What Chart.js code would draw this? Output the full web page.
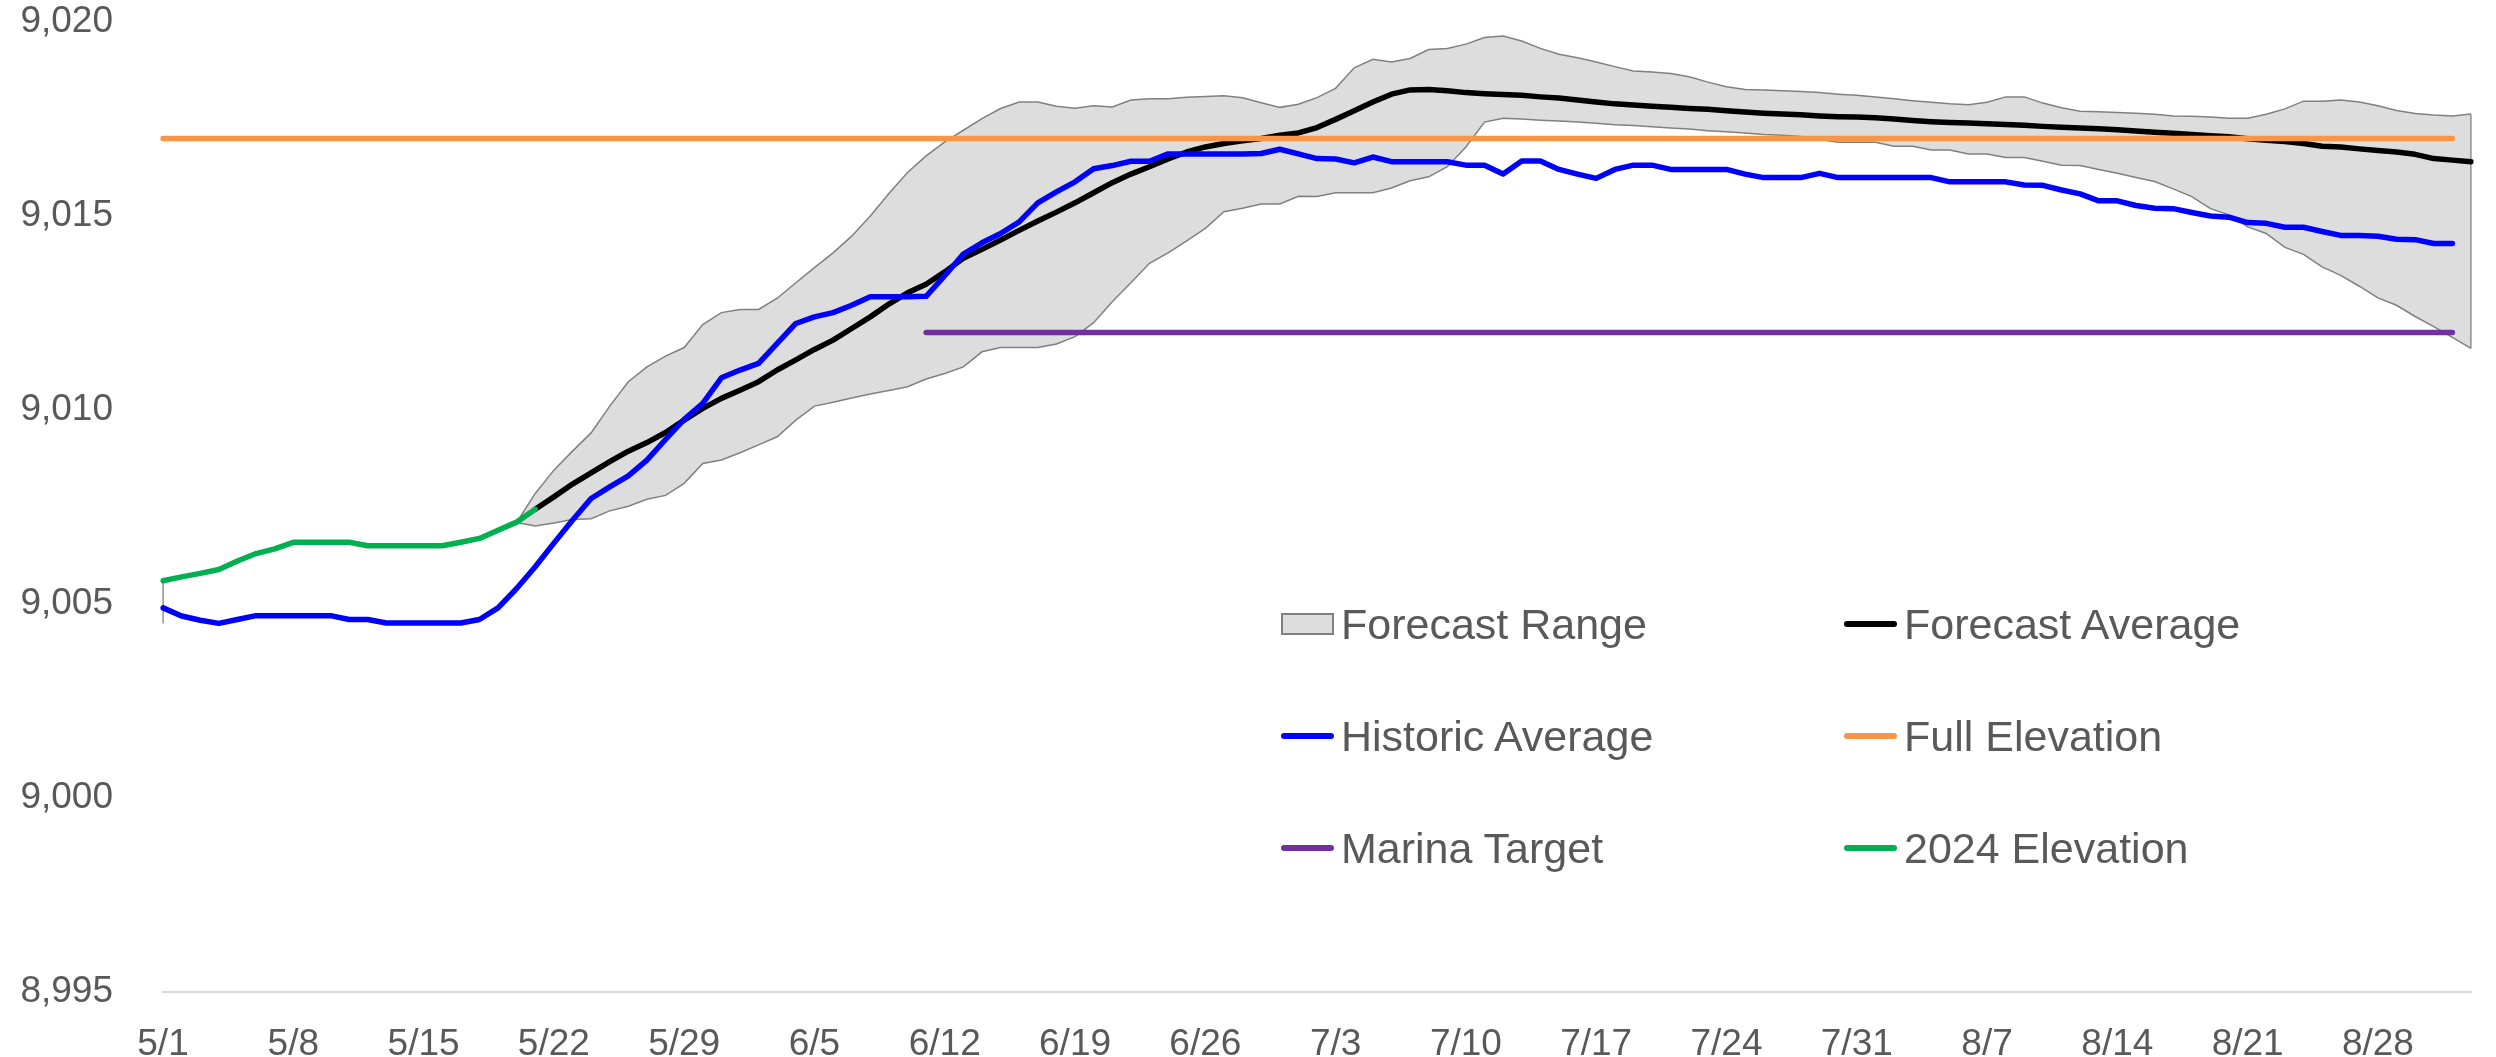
<!DOCTYPE html>
<html>
<head>
<meta charset="utf-8">
<title>Reservoir Elevation Forecast</title>
<script src="https://cdn.jsdelivr.net/npm/chart.js@4/dist/chart.umd.min.js"></script>
<style>
    html, body { margin: 0; padding: 0; background: #fff; }
    #wrap { position: relative; width: 2496px; height: 1057px; }
    #legend {
        position: absolute; left: 0; top: 0; width: 100%; height: 100%; pointer-events: none;
        font-family: "Liberation Sans", Arial, sans-serif; font-size: 43px; color: #595959;
    }
    .item { position: absolute; display: flex; align-items: center; height: 50px; white-space: nowrap; }
    .sym { width: 53px; margin-right: 7px; box-sizing: border-box; }
    .box { height: 22px; }
    .line { height: 6px; border-radius: 3px; }
</style>
</head>
<body>
<div id="wrap">
    <canvas id="elevChart" width="2496" height="1057"></canvas>
    <div id="legend"></div>
</div>
<script>
// categories (one per day, 5/1 - 9/2)
var dates = ('5/1 5/2 5/3 5/4 5/5 5/6 5/7 5/8 5/9 5/10 5/11 5/12 5/13 5/14 5/15 5/16 5/17 5/18 5/19 5/20 ' +
    '5/21 5/22 5/23 5/24 5/25 5/26 5/27 5/28 5/29 5/30 5/31 ' +
    '6/1 6/2 6/3 6/4 6/5 6/6 6/7 6/8 6/9 6/10 6/11 6/12 6/13 6/14 6/15 6/16 6/17 6/18 6/19 6/20 ' +
    '6/21 6/22 6/23 6/24 6/25 6/26 6/27 6/28 6/29 6/30 ' +
    '7/1 7/2 7/3 7/4 7/5 7/6 7/7 7/8 7/9 7/10 7/11 7/12 7/13 7/14 7/15 7/16 7/17 7/18 7/19 7/20 ' +
    '7/21 7/22 7/23 7/24 7/25 7/26 7/27 7/28 7/29 7/30 7/31 ' +
    '8/1 8/2 8/3 8/4 8/5 8/6 8/7 8/8 8/9 8/10 8/11 8/12 8/13 8/14 8/15 8/16 8/17 8/18 8/19 8/20 ' +
    '8/21 8/22 8/23 8/24 8/25 8/26 8/27 8/28 8/29 8/30 8/31 9/1 9/2').split(' ');

var tickLabels = ['5/1', '5/8', '5/15', '5/22', '5/29', '6/5', '6/12', '6/19', '6/26',
    '7/3', '7/10', '7/17', '7/24', '7/31', '8/7', '8/14', '8/21', '8/28'];

var yTicks = [8995, 9000, 9005, 9010, 9015, 9020];

// 2024 Elevation, from 5/1
var elevation2024Start = '5/1';
var elevation2024 = [9005.60, 9005.70, 9005.79, 9005.89, 9006.11, 9006.30, 9006.42, 9006.59, 9006.59, 9006.59,
    9006.59, 9006.50, 9006.50, 9006.50, 9006.50, 9006.50, 9006.59, 9006.69, 9006.90, 9007.11, 9007.44];

// Historic Average, from 5/1
var historicStart = '5/1';
var historicAverage = [
    9004.90, 9004.69, 9004.58, 9004.50, 9004.60, 9004.70, 9004.70, 9004.70, 9004.70, 9004.70,
    9004.60, 9004.60, 9004.51, 9004.51, 9004.51, 9004.51, 9004.51, 9004.60, 9004.90, 9005.40,
    9005.96, 9006.57, 9007.16, 9007.72, 9008.02, 9008.30, 9008.71, 9009.24, 9009.76, 9010.17,
    9010.83, 9011.03, 9011.20, 9011.72, 9012.23, 9012.40, 9012.51, 9012.70, 9012.92, 9012.92,
    9012.92, 9012.93, 9013.46, 9014.02, 9014.31, 9014.55, 9014.85, 9015.34, 9015.62, 9015.88,
    9016.22, 9016.30, 9016.41, 9016.41, 9016.60, 9016.60, 9016.60, 9016.60, 9016.60, 9016.61,
    9016.72, 9016.60, 9016.48, 9016.47, 9016.37, 9016.52, 9016.40, 9016.40, 9016.40, 9016.40,
    9016.31, 9016.31, 9016.08, 9016.42, 9016.42, 9016.20, 9016.08, 9015.97, 9016.20, 9016.31,
    9016.31, 9016.20, 9016.20, 9016.20, 9016.20, 9016.08, 9015.99, 9015.99, 9015.99, 9016.10,
    9015.99, 9015.99, 9015.99, 9015.99, 9015.99, 9015.99, 9015.88, 9015.88, 9015.88, 9015.88,
    9015.80, 9015.79, 9015.67, 9015.57, 9015.39, 9015.39, 9015.27, 9015.20, 9015.19, 9015.09,
    9015.00, 9014.97, 9014.83, 9014.81, 9014.71, 9014.71, 9014.60, 9014.50, 9014.50, 9014.48,
    9014.40, 9014.39, 9014.29, 9014.29];

// Forecast Average, from 5/21
var forecastAvgStart = '5/21';
var forecastAverage = [
    9007.44, 9007.76, 9008.09, 9008.38, 9008.67, 9008.94, 9009.16, 9009.42, 9009.74, 9010.04,
    9010.30, 9010.51, 9010.73, 9011.03, 9011.29, 9011.56, 9011.80, 9012.10, 9012.40, 9012.73,
    9013.02, 9013.24, 9013.56, 9013.91, 9014.14, 9014.38, 9014.63, 9014.87, 9015.10, 9015.34,
    9015.60, 9015.86, 9016.08, 9016.27, 9016.47, 9016.65, 9016.78, 9016.87, 9016.94, 9017.00,
    9017.08, 9017.14, 9017.28, 9017.49, 9017.71, 9017.94, 9018.14, 9018.25, 9018.26, 9018.23,
    9018.18, 9018.15, 9018.13, 9018.11, 9018.07, 9018.04, 9017.99, 9017.94, 9017.89, 9017.86,
    9017.83, 9017.80, 9017.77, 9017.75, 9017.71, 9017.68, 9017.65, 9017.63, 9017.61, 9017.58,
    9017.56, 9017.55, 9017.53, 9017.50, 9017.46, 9017.43, 9017.41, 9017.40, 9017.38, 9017.36,
    9017.34, 9017.31, 9017.29, 9017.27, 9017.25, 9017.22, 9017.19, 9017.16, 9017.13, 9017.10,
    9017.07, 9017.04, 9016.99, 9016.95, 9016.92, 9016.87, 9016.80, 9016.78, 9016.73, 9016.69,
    9016.65, 9016.59, 9016.48, 9016.44, 9016.40];

// Forecast Range (max / min), from 5/20
var rangeStart = '5/20';
var rangeHigh = [9007.10,
    9007.85, 9008.45, 9008.94, 9009.41, 9010.10, 9010.73, 9011.11, 9011.39, 9011.61, 9012.20,
    9012.51, 9012.59, 9012.59, 9012.88, 9013.28, 9013.67, 9014.05, 9014.48, 9015.00, 9015.58,
    9016.12, 9016.55, 9016.91, 9017.21, 9017.51, 9017.77, 9017.94, 9017.94, 9017.83, 9017.78,
    9017.84, 9017.81, 9017.99, 9018.02, 9018.02, 9018.06, 9018.08, 9018.10, 9018.05, 9017.92,
    9017.80, 9017.88, 9018.05, 9018.29, 9018.82, 9019.04, 9018.97, 9019.06, 9019.29, 9019.32,
    9019.43, 9019.60, 9019.64, 9019.51, 9019.32, 9019.17, 9019.08, 9018.97, 9018.85, 9018.74,
    9018.71, 9018.67, 9018.59, 9018.45, 9018.33, 9018.26, 9018.25, 9018.23, 9018.21, 9018.18,
    9018.14, 9018.11, 9018.07, 9018.02, 9017.97, 9017.93, 9017.89, 9017.87, 9017.93, 9018.07,
    9018.07, 9017.91, 9017.79, 9017.70, 9017.69, 9017.67, 9017.65, 9017.62, 9017.58, 9017.57,
    9017.55, 9017.52, 9017.52, 9017.62, 9017.76, 9017.96, 9017.96, 9017.99, 9017.94, 9017.84,
    9017.72, 9017.64, 9017.60, 9017.58, 9017.63];
var rangeLow = [9007.10,
    9007.01, 9007.09, 9007.18, 9007.20, 9007.40, 9007.52, 9007.70, 9007.80, 9008.11, 9008.62,
    9008.71, 9008.90, 9009.10, 9009.31, 9009.74, 9010.10, 9010.20, 9010.31, 9010.41, 9010.50,
    9010.60, 9010.80, 9010.94, 9011.11, 9011.50, 9011.61, 9011.61, 9011.61, 9011.70, 9011.89,
    9012.25, 9012.79, 9013.28, 9013.78, 9014.05, 9014.36, 9014.68, 9015.11, 9015.20, 9015.31,
    9015.31, 9015.51, 9015.50, 9015.60, 9015.60, 9015.60, 9015.72, 9015.91, 9016.01, 9016.27,
    9016.78, 9017.42, 9017.52, 9017.50, 9017.47, 9017.45, 9017.42, 9017.39, 9017.35, 9017.33,
    9017.30, 9017.27, 9017.24, 9017.20, 9017.17, 9017.14, 9017.10, 9017.08, 9017.05, 9016.97,
    9016.90, 9016.90, 9016.90, 9016.80, 9016.80, 9016.70, 9016.70, 9016.60, 9016.60, 9016.51,
    9016.51, 9016.41, 9016.31, 9016.30, 9016.20, 9016.10, 9015.99, 9015.89, 9015.70, 9015.50,
    9015.19, 9015.03, 9014.72, 9014.55, 9014.19, 9014.01, 9013.69, 9013.47, 9013.19, 9012.89,
    9012.70, 9012.41, 9012.15, 9011.87, 9011.59];

// small vertical mark on 5/1
var startMark = [9004.50, 9005.57];

// reference levels: [level, first day, last day]
var fullElevation = [9017, '5/1', '9/1'];
var marinaTarget = [9012, '6/11', '9/1'];

var colors = {
    rangeFill: '#dddddd', rangeEdge: '#808080', average: '#000000', historic: '#0000ff',
    full: '#f79646', marina: '#7030a0', elev2024: '#00b050', text: '#595959', axis: '#d9d9d9'
};

function alignTo(start, values) {
    var out = dates.map(function () { return null; });
    var i0 = dates.indexOf(start);
    values.forEach(function (v, i) { out[i0 + i] = v; });
    return out;
}

function levelLine(ref) {
    return [{ x: ref[1], y: ref[0] }, { x: ref[2], y: ref[0] }];
}

var lastDay = dates[dates.length - 1];
var edgePoints = [
    { x: dates[0], y: startMark[0] }, { x: dates[0], y: startMark[1] }, { x: dates[1], y: null },
    { x: lastDay, y: rangeLow[rangeLow.length - 1] }, { x: lastDay, y: rangeHigh[rangeHigh.length - 1] }
];

function lineSet(label, data, color, order) {
    return {
        label: label, data: data, borderColor: color, backgroundColor: color,
        borderWidth: 5.5, pointRadius: 0, tension: 0, fill: false,
        borderCapStyle: 'round', borderJoinStyle: 'round', order: order
    };
}

var datasets = [
    {
        label: 'Forecast Range', data: alignTo(rangeStart, rangeHigh),
        borderColor: colors.rangeEdge, backgroundColor: colors.rangeFill, borderWidth: 1.5,
        pointRadius: 0, tension: 0, fill: '+1', order: 10
    },
    {
        label: 'range-low', data: alignTo(rangeStart, rangeLow),
        borderColor: colors.rangeEdge, borderWidth: 1.5, pointRadius: 0, tension: 0, fill: false, order: 9
    },
    {
        label: 'range-edge', data: edgePoints,
        borderColor: colors.rangeEdge, borderWidth: 1.5, pointRadius: 0, tension: 0, fill: false, order: 8
    },
    lineSet('Forecast Average', alignTo(forecastAvgStart, forecastAverage), colors.average, 6),
    lineSet('Historic Average', alignTo(historicStart, historicAverage), colors.historic, 5),
    lineSet('Full Elevation', levelLine(fullElevation), colors.full, 4),
    lineSet('Marina Target', levelLine(marinaTarget), colors.marina, 3),
    lineSet('2024 Elevation', alignTo(elevation2024Start, elevation2024), colors.elev2024, 2)
];

var fontFamily = '"Liberation Sans", Arial, sans-serif';

var ctx = document.getElementById('elevChart').getContext('2d');
var chart = new Chart(ctx, {
    type: 'line',
    data: { labels: dates, datasets: datasets },
    options: {
        responsive: false,
        animation: false,
        devicePixelRatio: 1,
        layout: { padding: { top: 22, right: 25, bottom: 0, left: 0 } },
        plugins: { legend: { display: false }, tooltip: { enabled: false } },
        scales: {
            x: {
                type: 'category',
                offset: false,
                grid: { display: false },
                border: { display: true, color: colors.axis, width: 2 },
                ticks: {
                    autoSkip: false, maxRotation: 0, minRotation: 0, padding: 23,
                    color: colors.text, font: { family: fontFamily, size: 37, lineHeight: 1.2 },
                    callback: function (value, index) {
                        var d = dates[index];
                        return tickLabels.indexOf(d) >= 0 ? d : '';
                    }
                },
                afterFit: function (s) {
                    s.height = 65;
                    s.paddingLeft = 0;
                    s.paddingRight = 0;
                }
            },
            y: {
                min: yTicks[0], max: yTicks[yTicks.length - 1],
                grid: { display: false },
                border: { display: false },
                afterBuildTicks: function (s) { s.ticks = yTicks.map(function (v) { return { value: v }; }); },
                ticks: {
                    padding: 42, color: colors.text, font: { family: fontFamily, size: 37, lineHeight: 1.2 },
                    callback: function (v) { return v.toLocaleString('en-US'); }
                },
                afterFit: function (s) {
                    s.width = 163;
                    // keep the tick padding from pushing the plot down
                    s.paddingTop = 22;
                    s.paddingBottom = 0;
                }
            }
        }
    }
});

// legend, 3 rows x 2 columns inside the plot
var legendRows = [['Forecast Range', 'Forecast Average'], ['Historic Average', 'Full Elevation'], ['Marina Target', '2024 Elevation']];
var legendCols = [1281, 1844];
var legendRowY = [624, 736, 848];

function drawLegend() {
    var el = document.getElementById('legend');
    legendRows.forEach(function (row, r) {
        row.forEach(function (label, c) {
            var ds = datasets.filter(function (d) { return d.label === label; })[0];
            var item = document.createElement('div');
            item.className = 'item';
            item.style.left = legendCols[c] + 'px';
            item.style.top = (legendRowY[r] - 25) + 'px';
            var sym = document.createElement('div');
            if (ds.fill) {
                sym.className = 'sym box';
                sym.style.background = ds.backgroundColor;
                sym.style.border = '2px solid ' + ds.borderColor;
            } else {
                sym.className = 'sym line';
                sym.style.background = ds.borderColor;
            }
            var txt = document.createElement('span');
            txt.textContent = label;
            item.appendChild(sym);
            item.appendChild(txt);
            el.appendChild(item);
        });
    });
}
drawLegend();
</script>
</body>
</html>
